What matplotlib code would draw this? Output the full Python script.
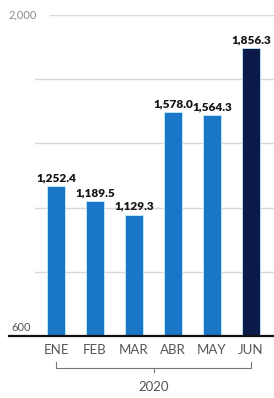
import matplotlib.pyplot as plt
import matplotlib.transforms as mtransforms
import numpy as np

# datos
meses = ['ENE', 'FEB', 'MAR', 'ABR', 'MAY', 'JUN']
valores = [1252.4, 1189.5, 1129.3, 1578.0, 1564.3, 1856.3]
colores = ['#1a76c6', '#1a76c6', '#1a76c6', '#1a76c6', '#1a76c6', '#0b1a48']
anio = '2020'
y_min, y_max = 600, 2000
grid_vals = [880, 1160, 1440, 1720]

fuente = ['Lato', 'DejaVu Sans']

fig = plt.figure(figsize=(2.74, 3.98), dpi=100)
ax = fig.add_axes([35 / 274, 62 / 398, 239 / 274, 321 / 398])

x = np.arange(len(meses))
for g in grid_vals:
    ax.axhline(g, color='#d9d9d9', lw=1.0, zorder=0)
# la linea de 2,000 empieza despues de la etiqueta
ax.axhline(2000, xmin=15 / 239, color='#d9d9d9', lw=1.0, zorder=0)

bars = ax.bar(x, valores, width=0.46, color=colores, edgecolor='#bfeefa',
              linewidth=0.6, zorder=2)

for b, v in zip(bars, valores):
    ax.text(b.get_x() + b.get_width() / 2, v + 12, f'{v:,.1f}',
            ha='center', va='bottom', fontsize=8.5, fontweight='heavy',
            family=fuente, color='#151515', zorder=3)

ax.set_ylim(y_min, y_max)
ax.set_xlim(-0.54, 5.59)
ax.set_xticks([])
ax.set_yticks([])
for s in ax.spines.values():
    s.set_visible(False)

# linea base
trans = mtransforms.blended_transform_factory(ax.transAxes, ax.transData)
ax.plot([-0.11, 1.0], [y_min, y_min], color='#111111', lw=1.6,
        transform=trans, clip_on=False, zorder=4)

# etiquetas del eje y
ax.text(-0.11, 2000, '2,000', ha='left', va='center', fontsize=8,
        family=fuente, color='#8a8a8a', transform=trans, clip_on=False)
ax.text(-0.10, 600 + 12, '600', ha='left', va='bottom', fontsize=8,
        family=fuente, color='#555555', transform=trans, clip_on=False)

# meses
tx = mtransforms.blended_transform_factory(ax.transData, ax.transAxes)
for i, m in enumerate(meses):
    ax.text(i, -0.045, m, ha='center', va='center', fontsize=9.5,
            family=fuente, color='#555555', transform=tx, clip_on=False)

# llave del anio
ax.plot([0, 0, 5, 5], [-0.082, -0.100, -0.100, -0.082], color='#777777',
        lw=0.8, transform=tx, clip_on=False)
ax.plot([2.5, 2.5], [-0.100, -0.112], color='#777777', lw=0.8,
        transform=tx, clip_on=False)
ax.text(2.5, -0.158, anio, ha='center', va='center', fontsize=9.5,
        family=fuente, color='#555555', transform=tx, clip_on=False)

fig.savefig('out.png', dpi=100)
